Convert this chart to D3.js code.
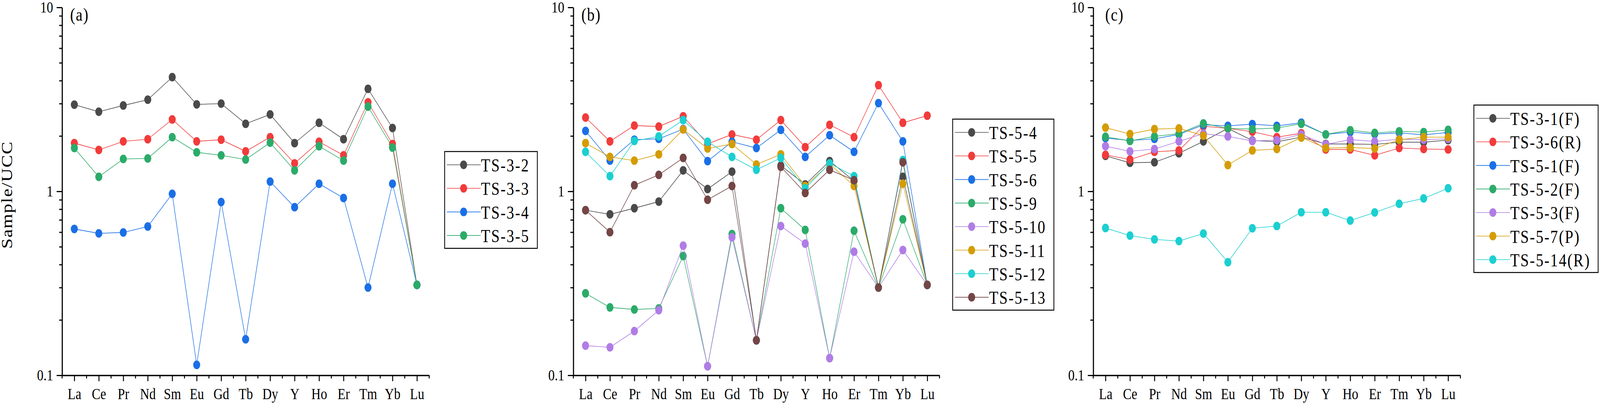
<!DOCTYPE html>
<html>
<head>
<meta charset="utf-8">
<script src="https://cdn.jsdelivr.net/npm/d3@7"></script>
<style>
  html, body { margin: 0; padding: 0; background: #fff; overflow: hidden; }
  #chart svg { display: block; width: 100vw; height: 100vh; }
</style>
</head>
<body>
<div id="chart"></div>
<script>
// REE elements on the x axis
const elements = ["La", "Ce", "Pr", "Nd", "Sm", "Eu", "Gd", "Tb", "Dy", "Y", "Ho", "Er", "Tm", "Yb", "Lu"];
const yTicks = [0.1, 1, 10];

// (a)
const ts3_2 = [2.96, 2.71, 2.93, 3.15, 4.18, 2.97, 3.0, 2.33, 2.62, 1.83, 2.36, 1.92, 3.61, 2.21, 0.31];
const ts3_3 = [1.83, 1.68, 1.87, 1.92, 2.46, 1.87, 1.91, 1.65, 1.97, 1.42, 1.86, 1.57, 3.05, 1.81, 0.31];
const ts3_4 = [0.625, 0.591, 0.598, 0.644, 0.97, 0.114, 0.875, 0.157, 1.13, 0.82, 1.10, 0.92, 0.30, 1.10, 0.31];
const ts3_5 = [1.72, 1.20, 1.50, 1.51, 1.97, 1.63, 1.57, 1.49, 1.84, 1.30, 1.76, 1.47, 2.89, 1.73, 0.31];

// (b)
const ts5_4 = [0.79, 0.75, 0.81, 0.88, 1.30, 1.03, 1.28, 0.155, 1.38, 1.09, 1.46, 1.14, 0.30, 1.20, 0.31];
const ts5_5 = [2.52, 1.87, 2.28, 2.25, 2.56, 1.81, 2.04, 1.91, 2.44, 1.74, 2.30, 1.97, 3.78, 2.36, 2.58];
const ts5_6 = [2.13, 1.47, 1.91, 1.93, 2.18, 1.46, 1.86, 1.72, 2.16, 1.54, 2.02, 1.64, 3.02, 1.87, 0.31];
const ts5_9 = [0.279, 0.234, 0.228, 0.231, 0.445, 0.112, 0.586, 0.155, 0.81, 0.617, 0.124, 0.611, 0.30, 0.705, 0.31];
const ts5_10 = [0.145, 0.142, 0.174, 0.226, 0.507, 0.112, 0.563, 0.155, 0.648, 0.52, 0.124, 0.47, 0.30, 0.48, 0.31];
const ts5_11 = [1.83, 1.54, 1.47, 1.59, 2.17, 1.71, 1.81, 1.40, 1.59, 1.07, 1.41, 1.07, 0.30, 1.10, 0.31];
const ts5_12 = [1.64, 1.21, 1.88, 1.99, 2.44, 1.86, 1.54, 1.31, 1.52, 1.04, 1.42, 1.21, 0.30, 1.48, 0.31];
const ts5_13 = [0.79, 0.60, 1.08, 1.23, 1.52, 0.90, 1.07, 0.155, 1.36, 0.98, 1.31, 1.15, 0.30, 1.44, 0.31];

// (c)
const ts3_1F = [1.56, 1.43, 1.44, 1.61, 1.87, 2.20, 1.89, 1.86, 1.97, 1.81, 1.81, 1.80, 1.85, 1.85, 1.90];
const ts3_6R = [1.58, 1.49, 1.64, 1.67, 2.26, 2.20, 2.11, 1.97, 2.07, 1.69, 1.69, 1.57, 1.72, 1.70, 1.69];
const ts5_1F = [1.95, 1.89, 1.93, 2.04, 2.30, 2.27, 2.32, 2.27, 2.36, 2.04, 2.10, 2.05, 2.08, 2.03, 2.09];
const ts5_2F = [1.98, 1.88, 1.99, 2.06, 2.34, 2.20, 2.18, 2.21, 2.33, 2.04, 2.15, 2.08, 2.12, 2.10, 2.16];
const ts5_3F = [1.76, 1.65, 1.70, 1.87, 2.06, 1.99, 1.88, 1.90, 2.04, 1.80, 1.91, 1.87, 1.92, 1.91, 1.93];
const ts5_7P = [2.22, 2.05, 2.18, 2.20, 2.01, 1.39, 1.67, 1.70, 1.96, 1.72, 1.73, 1.71, 1.91, 1.97, 1.97];
const ts5_14R = [0.632, 0.575, 0.548, 0.537, 0.59, 0.412, 0.63, 0.648, 0.77, 0.77, 0.694, 0.768, 0.856, 0.916, 1.04];

const grey = "#4a4a4a", red = "#f23b3b", blue = "#1a6fe6", green = "#2bab69",
      purple = "#b07ce6", gold = "#d49c05", cyan = "#1ccfd0", brown = "#744545";

const FONT = "'Liberation Serif', 'Times New Roman', 'DejaVu Serif', serif";
const W = 4973, H = 1037;

class REEPlot {
  constructor(_config) {
    this.config = {
      svg: _config.svg,
      left: _config.left,
      right: _config.right,
      top: 19,
      bottom: 961,
      label: _config.label,
      labelDx: _config.labelDx,
      legendX: _config.legendX,
      legendTop: _config.legendTop
    }
    this.series = _config.series;
    this.initVis();
  }

  initVis() {
    let vis = this;
    let c = vis.config;

    vis.x = d3.scalePoint()
      .domain(elements)
      .range([c.left, c.right])
      .padding(0.5);

    vis.y = d3.scaleLog()
      .domain([0.1, 10])
      .range([c.bottom, c.top]);

    vis.g = c.svg.append("g");

    // minor ticks first so the axis line sits on top
    let minorY = [];
    [0.1, 1].forEach(d => { for (let k = 2; k <= 9; k++) minorY.push(+(d * k).toFixed(2)); });
    vis.g.append("g")
      .attr("transform", `translate(${c.left},0)`)
      .call(d3.axisLeft(vis.y).tickValues(minorY).tickSize(9).tickFormat(""))
      .call(g => g.select(".domain").remove())
      .call(g => g.selectAll(".tick line").attr("stroke-width", 3));

    let step = vis.x.step();
    let minorX = elements.map(e => vis.x(e) + step / 2);
    minorX.unshift(vis.x(elements[0]) - step / 2);
    vis.g.append("g").selectAll("line")
      .data(minorX)
      .join("line")
      .attr("x1", d => d).attr("x2", d => d)
      .attr("y1", c.bottom).attr("y2", c.bottom + 8)
      .attr("stroke", "#000").attr("stroke-width", 3);

    vis.g.append("g")
      .attr("transform", `translate(${c.left},0)`)
      .call(d3.axisLeft(vis.y).tickValues(yTicks).tickSize(17).tickSizeOuter(0).tickPadding(11).tickFormat(d => String(d)))
      .attr("font-family", FONT)
      .attr("font-size", 40)
      .call(g => g.select(".domain").attr("stroke-width", 3.5))
      .call(g => g.selectAll(".tick line").attr("stroke-width", 3))
      .call(g => g.selectAll(".tick text").attr("fill", "#000"));

    vis.g.append("g")
      .attr("transform", `translate(0,${c.bottom})`)
      .call(d3.axisBottom(vis.x).tickSize(15).tickSizeOuter(0).tickPadding(18))
      .attr("font-family", FONT)
      .attr("font-size", 40)
      .call(g => g.select(".domain").attr("stroke-width", 3.5))
      .call(g => g.selectAll(".tick line").attr("stroke-width", 3))
      .call(g => g.selectAll(".tick text").attr("fill", "#000"));

    vis.g.append("text")
      .attr("x", c.left + c.labelDx)
      .attr("y", 53)
      .attr("font-family", FONT)
      .attr("font-size", 47)
      .attr("letter-spacing", 2)
      .text(c.label);

    vis.renderVis();
    vis.renderLegend();
  }

  renderVis() {
    let vis = this;
    let line = d3.line()
      .x((d, i) => vis.x(elements[i]))
      .y(d => vis.y(d));

    let s = vis.g.append("g").selectAll("g")
      .data(vis.series)
      .join("g");

    s.append("path")
      .attr("d", d => line(d.values))
      .attr("fill", "none")
      .attr("stroke", d => d.color)
      .attr("stroke-width", 1.6);

    s.selectAll("circle")
      .data(d => d.values.map(v => ({ v: v, color: d.color })))
      .join("circle")
      .attr("cx", (d, i) => vis.x(elements[i]))
      .attr("cy", d => vis.y(d.v))
      .attr("r", 11)
      .attr("fill", d => d.color);
  }

  renderLegend() {
    let vis = this;
    let c = vis.config;
    let rowH = 60.3;
    let lg = vis.g.append("g");
    let box = lg.append("rect")
      .attr("x", c.legendX)
      .attr("y", c.legendTop)
      .attr("fill", "#fff")
      .attr("stroke", "#000")
      .attr("stroke-width", 2.5);

    let rows = lg.selectAll("g.row")
      .data(vis.series)
      .join("g")
      .attr("class", "row")
      .attr("transform", (d, i) => `translate(${c.legendX},${c.legendTop + 34 + i * rowH})`);
    rows.append("line")
      .attr("x1", 7).attr("x2", 112)
      .attr("stroke", d => d.color)
      .attr("stroke-width", 1.6);
    rows.append("circle")
      .attr("cx", 59).attr("r", 11)
      .attr("fill", d => d.color);
    let txt = rows.append("text")
      .attr("x", 113)
      .attr("y", 17)
      .attr("font-family", FONT)
      .attr("font-size", 47)
      .attr("letter-spacing", 3)
      .text(d => d.name);

    let maxW = d3.max(txt.nodes(), n => n.getComputedTextLength());
    box.attr("width", 113 + maxW + 24)
      .attr("height", 34 + (vis.series.length - 1) * rowH + 33);
  }
}

// stretch the drawing to whatever window it gets
const svg = d3.select("#chart").append("svg")
  .attr("viewBox", `0 0 ${W} ${H}`)
  .attr("preserveAspectRatio", "none")
  .attr("font-family", FONT);

svg.append("rect").attr("width", W).attr("height", H).attr("fill", "#fff");

svg.append("text")
  .attr("transform", "translate(38,499) rotate(-90)")
  .attr("text-anchor", "middle")
  .attr("font-family", FONT)
  .attr("font-size", 48)
  .attr("letter-spacing", 2)
  .text("Sample/UCC");

new REEPlot({
  svg: svg, left: 193, right: 1334, label: "(a)", labelDx: 25,
  legendX: 1382, legendTop: 388,
  series: [
    { name: "TS-3-2", color: grey, values: ts3_2 },
    { name: "TS-3-3", color: red, values: ts3_3 },
    { name: "TS-3-4", color: blue, values: ts3_4 },
    { name: "TS-3-5", color: green, values: ts3_5 }
  ]
});

new REEPlot({
  svg: svg, left: 1782, right: 2920, label: "(b)", labelDx: 25,
  legendX: 2961, legendTop: 305,
  series: [
    { name: "TS-5-4", color: grey, values: ts5_4 },
    { name: "TS-5-5", color: red, values: ts5_5 },
    { name: "TS-5-6", color: blue, values: ts5_6 },
    { name: "TS-5-9", color: green, values: ts5_9 },
    { name: "TS-5-10", color: purple, values: ts5_10 },
    { name: "TS-5-11", color: gold, values: ts5_11 },
    { name: "TS-5-12", color: cyan, values: ts5_12 },
    { name: "TS-5-13", color: brown, values: ts5_13 }
  ]
});

new REEPlot({
  svg: svg, left: 3398, right: 4539, label: "(c)", labelDx: 37,
  legendX: 4581, legendTop: 269,
  series: [
    { name: "TS-3-1(F)", color: grey, values: ts3_1F },
    { name: "TS-3-6(R)", color: red, values: ts3_6R },
    { name: "TS-5-1(F)", color: blue, values: ts5_1F },
    { name: "TS-5-2(F)", color: green, values: ts5_2F },
    { name: "TS-5-3(F)", color: purple, values: ts5_3F },
    { name: "TS-5-7(P)", color: gold, values: ts5_7P },
    { name: "TS-5-14(R)", color: cyan, values: ts5_14R }
  ]
});
</script>
</body>
</html>
